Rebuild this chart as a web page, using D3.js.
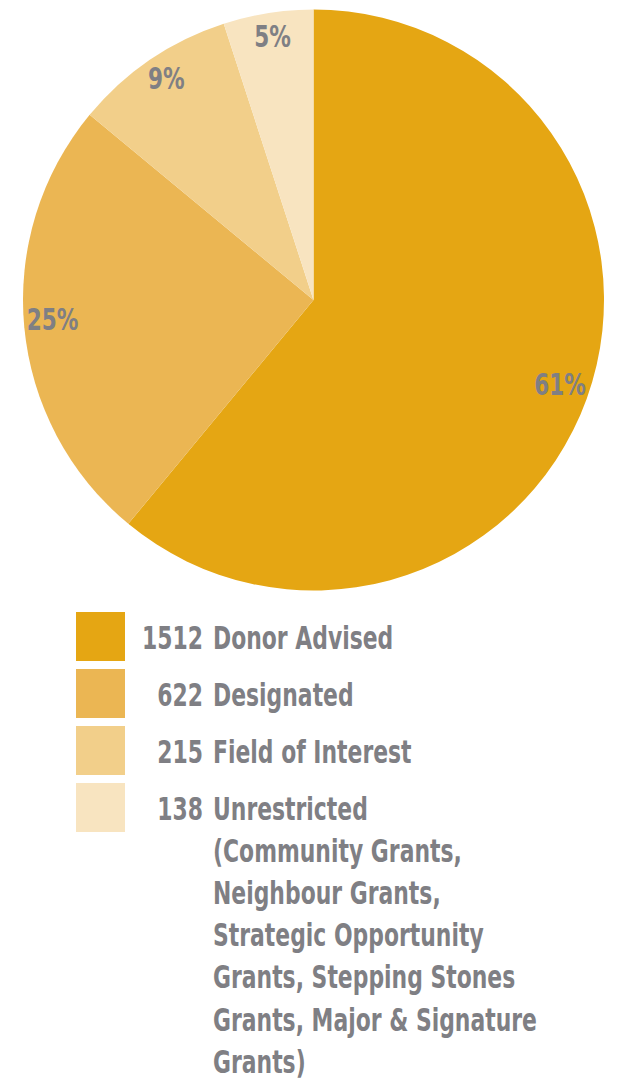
<!DOCTYPE html>
<html>
<head>
<meta charset="utf-8">
<script src="https://cdn.jsdelivr.net/npm/d3@7"></script>
<style>
  html, body { margin: 0; padding: 0; background: #ffffff; }
  svg { display: block; }
  text { font-family: "DejaVu Sans", sans-serif; font-weight: bold; fill: #7f7f84; }
</style>
</head>
<body>
<svg id="chart" width="617" height="1080"></svg>
<script>
const categories = ["Donor Advised", "Designated", "Field of Interest", "Unrestricted"];
const counts = [1512, 622, 215, 138];
const percents = [61, 25, 9, 5];
const percentLabels = ["61%", "25%", "9%", "5%"];
const legendExtraLines = ["(Community Grants,", "Neighbour Grants,", "Strategic Opportunity", "Grants, Stepping Stones", "Grants, Major & Signature", "Grants)"];
const colors = ["#e5a613", "#ebb653", "#f2cf8a", "#f8e4c0"];

const svg = d3.select("#chart");
const cx = 313.5, cy = 300, r = 290.5;
const sx = 0.685;

const data = categories.map((c, i) => ({ name: c, count: counts[i], pct: percents[i], label: percentLabels[i], color: colors[i] }));

const pie = d3.pie().sort(null).value(d => d.pct);
const arc = d3.arc().innerRadius(0).outerRadius(r);
const labelArc = d3.arc().innerRadius(262).outerRadius(262);

const g = svg.append("g").attr("transform", `translate(${cx},${cy})`);
const arcs = pie(data);

g.selectAll("path").data(arcs).enter().append("path")
  .attr("d", arc)
  .attr("fill", d => d.data.color);

g.selectAll("text.pct").data(arcs).enter().append("text")
  .attr("class", "pct")
  .attr("transform", d => { const c = labelArc.centroid(d); return `translate(${c[0]},${c[1] - 5}) scale(0.72,1)`; })
  .attr("text-anchor", "middle")
  .attr("dy", "0.36em")
  .style("font-size", "30px")
  .text(d => d.data.label);

// Legend
const legend = svg.append("g");
const rowY = d3.scaleBand().domain(categories).range([612, 612 + 57 * 4]);

const rows = legend.selectAll("g.row").data(data).enter().append("g").attr("class", "row");
rows.append("rect")
  .attr("x", 76)
  .attr("y", d => rowY(d.name))
  .attr("width", 49)
  .attr("height", 49)
  .attr("fill", d => d.color);
rows.append("text")
  .attr("transform", d => `translate(203,${rowY(d.name) + 24.5 + 12}) scale(${sx},1)`)
  .attr("text-anchor", "end")
  .style("font-size", "32px")
  .text(d => d.count);
rows.append("text")
  .attr("transform", d => `translate(213,${rowY(d.name) + 24.5 + 12}) scale(${sx},1)`)
  .style("font-size", "32px")
  .text(d => d.name);

const lastY = rowY(categories[3]) + 24.5 + 12;
legend.selectAll("text.extra").data(legendExtraLines).enter().append("text")
  .attr("class", "extra")
  .attr("transform", (d, i) => `translate(213,${lastY + 42.2 * (i + 1)}) scale(${sx},1)`)
  .style("font-size", "32px")
  .text(d => d);
</script>
</body>
</html>
